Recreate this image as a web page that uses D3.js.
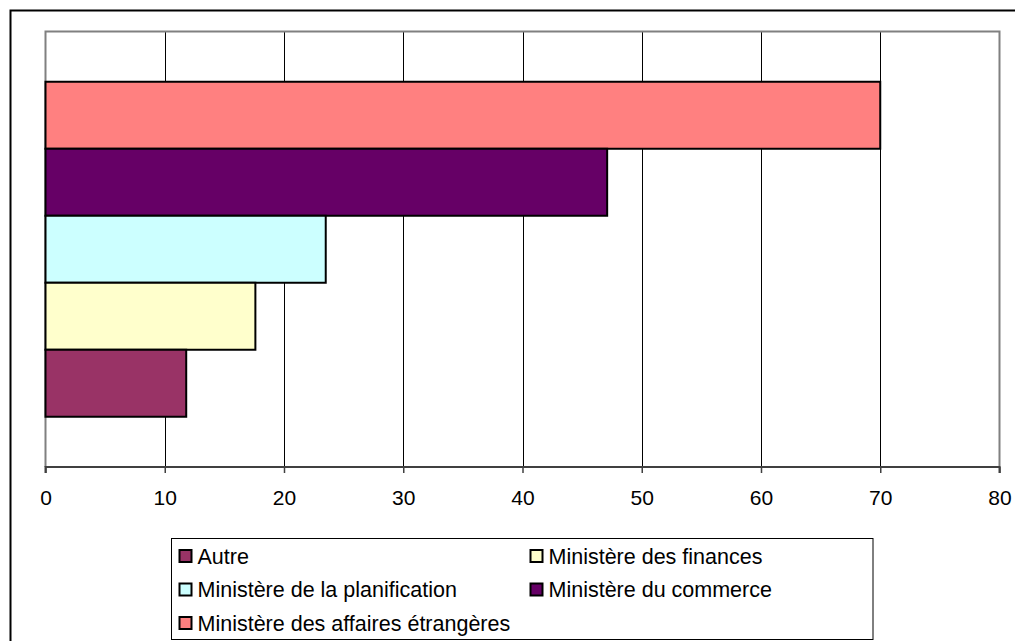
<!DOCTYPE html>
<html>
<head>
<meta charset="utf-8">
<script src="https://cdn.jsdelivr.net/npm/d3@7"></script>
<style>
  html, body { margin: 0; padding: 0; background: #fff; }
  svg { display: block; }
  text { font-family: "Liberation Sans", Arial, sans-serif; fill: #000; }
</style>
</head>
<body>
<svg id="chart" width="1021" height="641"></svg>
<script>
// Series drawn top to bottom in the plot
const barSeries = [
  "Ministère des affaires étrangères",
  "Ministère du commerce",
  "Ministère de la planification",
  "Ministère des finances",
  "Autre"
];
const barValues = [70, 47.1, 23.5, 17.6, 11.8];
const barColors = ["#FF8080", "#660066", "#CCFFFF", "#FFFFCC", "#993366"];

// Legend order (two columns, row by row)
const legendOrder = [
  "Autre",
  "Ministère des finances",
  "Ministère de la planification",
  "Ministère du commerce",
  "Ministère des affaires étrangères"
];

const xTicks = [0, 10, 20, 30, 40, 50, 60, 70, 80];

const svg = d3.select("#chart");

// Outer frame (top and left edges visible)
svg.append("path")
  .attr("d", "M10.5,641 V10.5 H1015")
  .attr("fill", "none")
  .attr("stroke", "#000")
  .attr("stroke-width", 2);

const plot = { left: 45.5, right: 999.5, top: 31.5, bottom: 467 };

const x = d3.scaleLinear().domain([0, 80]).range([plot.left, plot.right]);
const y = d3.scaleBand()
  .domain(barSeries)
  .range([plot.top, plot.bottom])
  .paddingInner(0)
  .paddingOuter(0.75);

// Vertical gridlines
svg.append("g")
  .selectAll("line")
  .data(xTicks.filter(d => d > 0 && d < 80))
  .join("line")
  .attr("x1", d => Math.round(x(d)) + 0.5)
  .attr("x2", d => Math.round(x(d)) + 0.5)
  .attr("y1", plot.top)
  .attr("y2", plot.bottom)
  .attr("stroke", "#000")
  .attr("stroke-width", 1);

// Plot area border: gray top / left / right
svg.append("path")
  .attr("d", `M${plot.left},${plot.bottom} V${plot.top} H${plot.right} V${plot.bottom}`)
  .attr("fill", "none")
  .attr("stroke", "#808080")
  .attr("stroke-width", 2);

// Bars
svg.append("g")
  .selectAll("rect")
  .data(barSeries)
  .join("rect")
  .attr("x", x(0))
  .attr("y", d => y(d))
  .attr("width", (d, i) => x(barValues[i]) - x(0))
  .attr("height", y.bandwidth())
  .attr("fill", (d, i) => barColors[i])
  .attr("stroke", "#000")
  .attr("stroke-width", 2);

// Bottom value axis
const xAxis = d3.axisBottom(x)
  .tickValues(xTicks)
  .tickSize(6)
  .tickPadding(17)
  .tickFormat(d3.format("d"));

const axisG = svg.append("g")
  .attr("transform", `translate(0,${plot.bottom})`)
  .call(xAxis);
axisG.select(".domain")
  .attr("stroke", "#404040")
  .attr("stroke-width", 2)
  .attr("d", `M${plot.left},6V0H${plot.right}V6`);
axisG.selectAll(".tick line").attr("stroke", "#404040").attr("stroke-width", 1.5);
axisG.selectAll(".tick text")
  .attr("font-size", 21)
  .attr("dy", null)
  .style("font-family", "'Liberation Sans', Arial, sans-serif")
  .attr("fill", "#000");
axisG.selectAll(".tick text").attr("y", 38);

// Legend
const legend = svg.append("g");
legend.append("rect")
  .attr("x", 171.5)
  .attr("y", 538.5)
  .attr("width", 701.5)
  .attr("height", 101)
  .attr("fill", "#fff")
  .attr("stroke", "#000")
  .attr("stroke-width", 1);

const colX = [178.5, 529.5];
const rowY = [556, 589.5, 623];
const colorOf = name => barColors[barSeries.indexOf(name)];

const items = legend.selectAll("g.item")
  .data(legendOrder)
  .join("g")
  .attr("class", "item")
  .attr("transform", (d, i) => `translate(${colX[i % 2]},${rowY[Math.floor(i / 2)]})`);

items.append("rect")
  .attr("x", 1)
  .attr("y", -6)
  .attr("width", 12)
  .attr("height", 12)
  .attr("fill", d => colorOf(d))
  .attr("stroke", "#000")
  .attr("stroke-width", 2);

items.append("text")
  .attr("x", 19)
  .attr("y", 0)
  .attr("dy", "0.36em")
  .attr("font-size", 21.5)
  .text(d => d);
</script>
</body>
</html>
